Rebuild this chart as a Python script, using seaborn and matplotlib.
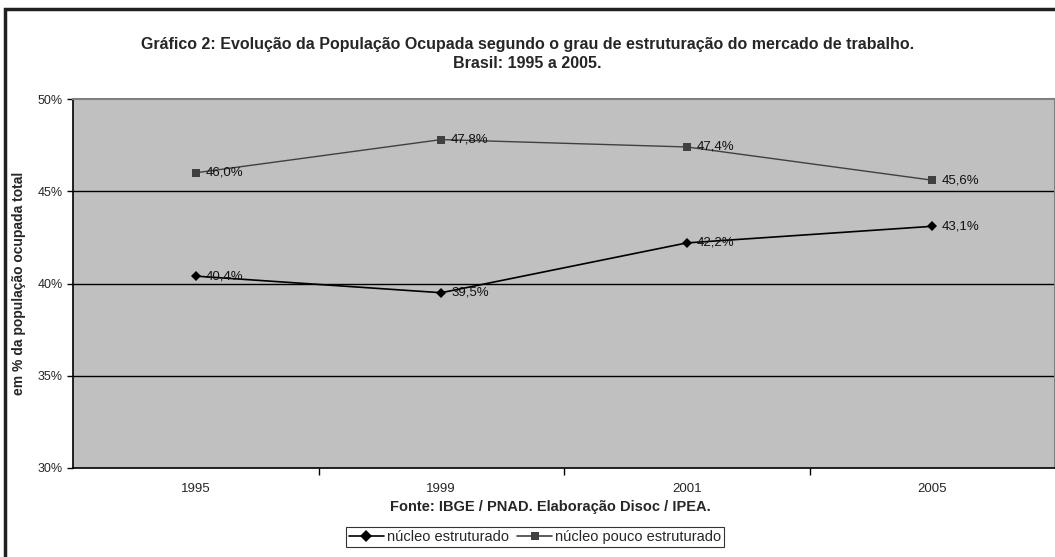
import matplotlib
matplotlib.use("Agg")
import matplotlib.pyplot as plt
import seaborn as sns
import pandas as pd
from matplotlib.patches import Rectangle

# Dados
anos = ["1995", "1999", "2001", "2005"]
estruturado = [40.4, 39.5, 42.2, 43.1]
pouco_estruturado = [46.0, 47.8, 47.4, 45.6]

sns.set_style("white")
plt.rcParams["font.family"] = ["Liberation Sans", "DejaVu Sans"]

df = pd.DataFrame({
    "ano": anos * 2,
    "valor": estruturado + pouco_estruturado,
    "serie": ["núcleo estruturado"] * 4 + ["núcleo pouco estruturado"] * 4,
})

fig = plt.figure(figsize=(10.55, 5.57), dpi=100)
ax = fig.add_axes([73 / 1055, 1 - 468 / 557, 982 / 1055, (468 - 99) / 557])
ax.set_facecolor("#c0c0c0")

sns.lineplot(data=df, x="ano", y="valor", hue="serie", style="serie",
             markers={"núcleo estruturado": "D", "núcleo pouco estruturado": "s"},
             dashes=False, palette={"núcleo estruturado": "black",
                                    "núcleo pouco estruturado": "#404040"},
             linewidth=1.2, markersize=6, markeredgewidth=0, ax=ax, sort=False)
ax.lines[0].set_markersize(5)
ax.lines[1].set_linewidth(1.0)

for serie in [estruturado, pouco_estruturado]:
    for i, v in enumerate(serie):
        ax.annotate(f"{v:.1f}%".replace(".", ","), (i, v), xytext=(7, 0),
                    textcoords="offset points", va="center", fontsize=9.5,
                    color="#111111")

ax.set_ylim(30, 50)
ax.set_xlim(-0.5, 3.5)
ax.set_yticks([30, 35, 40, 45, 50])
ax.set_yticklabels(["30%", "35%", "40%", "45%", "50%"], fontsize=9)
ax.set_xticks(range(4))
ax.set_xticklabels(anos, fontsize=9.5)
ax.tick_params(axis="x", length=0, pad=11)
ax.tick_params(axis="y", length=4, width=1, color="black", direction="out", left=True)
ax.set_xticks([0.5, 1.5, 2.5], minor=True)
ax.tick_params(axis="x", which="minor", length=5, width=1, color="black", direction="out", bottom=True)
for y in [35, 40, 45]:
    ax.axhline(y, color="black", linewidth=1, zorder=0.5)

for side in ["top", "right"]:
    ax.spines[side].set_color("#808080")
    ax.spines[side].set_linewidth(1.5)
for side in ["left", "bottom"]:
    ax.spines[side].set_color("black")
    ax.spines[side].set_linewidth(1.2)

ax.set_xlabel("Fonte: IBGE / PNAD. Elaboração Disoc / IPEA.", fontsize=10.5,
              fontweight="bold", va="center")
ax.xaxis.set_label_coords((550 - 73) / 982, (468 - 507) / 369)
ax.set_ylabel("em % da população ocupada total", fontsize=10, fontweight="bold",
              labelpad=8)

fig.text(0.5, 1 - 54 / 557, "Gráfico 2: Evolução da População Ocupada segundo o grau de estruturação do mercado de trabalho.\nBrasil: 1995 a 2005.",
         ha="center", va="center", fontsize=11.5, fontweight="bold", linespacing=1.25)

leg = ax.legend(loc="center", bbox_to_anchor=(535 / 1055, 1 - 537 / 557),
                bbox_transform=fig.transFigure, ncol=2, frameon=True, fontsize=10.5,
                handlelength=2.4, columnspacing=0.6, handletextpad=0.2,
                borderpad=0.2, fancybox=False, edgecolor="black")
leg.get_frame().set_linewidth(0.8)
leg.set_title(None)

fig.patches.append(Rectangle((5 / 1055, -0.02), 1.05, 1 - 9 / 557 + 0.02,
                             transform=fig.transFigure, fill=False,
                             edgecolor="#202020", linewidth=2.5, figure=fig))

fig.savefig("out.png", dpi=100)
